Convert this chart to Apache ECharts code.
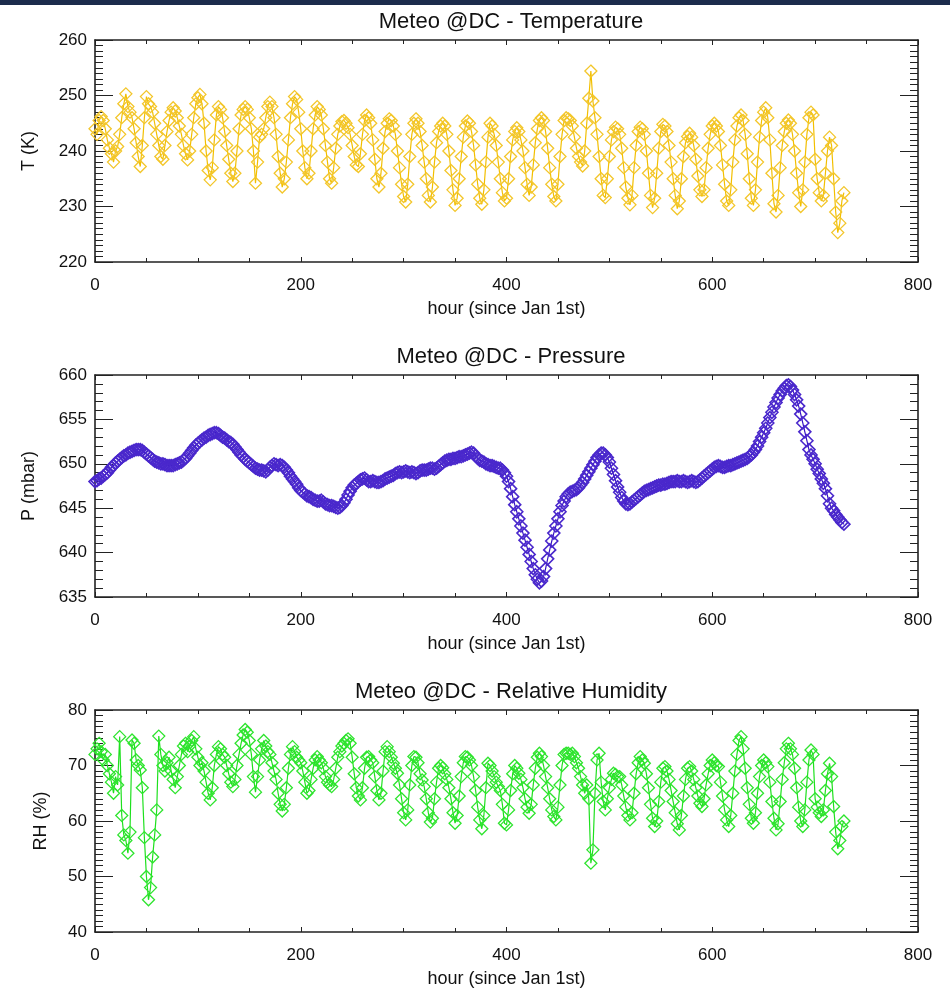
<!DOCTYPE html>
<html>
<head>
<meta charset="utf-8">
<script src="https://cdn.jsdelivr.net/npm/echarts@6/dist/echarts.min.js"></script>
<style>
  html, body { margin: 0; padding: 0; background: #fff; }
  #meteo { width: 950px; height: 989px; }
</style>
</head>
<body>
<div id="meteo"></div>
<script>
// readings taken off the plots every 2 hours, starting at hour 0
var STEP = 2;

var tempK = [
  244, 243, 245.5, 246.2, 245.5, 244, 242, 240.5, 239.5, 238, 240, 240.8,
  243, 246, 248.5, 250.3, 248, 247, 246, 244, 241.5, 239, 237.2, 241,
  246, 249.8, 248.5, 248, 247, 245, 243, 241, 239, 238.5, 241, 243.5,
  245.5, 247, 247.8, 247.2, 246, 244.5, 243, 241, 239.5, 238.4, 240, 243,
  246, 248.5, 249.6, 250.2, 248.5, 245, 240, 236.5, 234.8, 237, 242, 246.5,
  248, 247.5, 246, 243.5, 241, 238.5, 236, 234.5, 236, 240, 244, 246.5,
  247.5, 248, 247.5, 246, 244, 240, 234.2, 238, 242.5, 243, 244, 246,
  248, 248.8, 248, 246, 243, 239, 236, 233.5, 235, 238, 242, 246,
  248.5, 249.8, 249.3, 247, 244, 240, 237, 235, 236, 240, 244, 246.5,
  248, 247.5, 246.5, 244, 241, 238, 235, 234.2, 237, 240.5, 243, 244.5,
  245.3, 245.5, 245, 244.2, 243, 241, 239, 237.5, 237.2, 239.5, 243, 245.5,
  246.5, 246, 245, 242, 238.5, 235, 233.5, 236, 240.5, 243.5, 245, 245.8,
  245.5, 244.5, 243, 240, 237, 234, 231.8, 230.8, 234, 239, 243, 245,
  245.8, 245, 243.5, 241, 238, 235, 232, 230.8, 233.5, 238, 241.5, 243.5,
  244.5, 245, 244.5, 243, 240, 236.5, 233, 230.2, 231.5, 235, 239, 242.5,
  244.5, 245.4, 245, 243.5, 241, 237.5, 234, 231.5, 230.4, 233, 238, 242.5,
  245, 244.5, 243, 241, 238, 235, 232.5, 231, 231.5, 235, 239, 242,
  243.5, 244.2, 243.5, 242, 240, 237, 234, 232, 233.5, 237.5, 241.5, 244,
  245.5, 246, 245.5, 243.5, 240.5, 237, 234, 231.8, 231, 234, 239, 243,
  245.5, 246, 245.8, 245.5, 244.5, 242.5, 240.5, 239, 238, 237.3, 240, 245,
  249.5, 254.4, 249, 246, 243, 239, 235, 232, 231.6, 235, 239, 242,
  243.5, 244.3, 244, 243, 240.5, 237, 233.5, 231.5, 230.3, 232, 237, 241,
  243.5, 244.3, 244, 243, 240, 236, 232, 229.8, 231.5, 236, 240.5, 243.5,
  244.8, 244.5, 243.5, 241, 238, 235, 232, 229.6, 231, 235, 239, 241.5,
  242.6, 243.2, 242.5, 241, 238.5, 235.5, 233, 231.8, 233, 237, 240.5, 243,
  244.5, 245, 244.5, 243.5, 241, 237.5, 234, 231, 230.2, 233, 238, 242,
  244.5, 246, 246.5, 245.5, 243, 239.5, 235, 231.5, 230.2, 233, 238, 242.5,
  245.5, 247, 247.8, 246, 242, 236, 230.5, 229, 232, 237, 241, 243.5,
  245, 245.6, 245, 243, 240, 236, 232.5, 230, 233, 238, 243, 246,
  247, 246.5, 238.5, 235, 232.5, 231, 232, 236, 240, 242.5, 241, 235,
  229, 225.3, 227, 231, 232.5
];

var pressure = [
  648.0, 648.1, 648.3, 648.4, 648.6, 648.8, 649.0, 649.3, 649.6, 649.8, 650.1, 650.3,
  650.5, 650.7, 650.9, 651.0, 651.2, 651.3, 651.4, 651.5, 651.6, 651.6, 651.6, 651.5,
  651.3, 651.1, 650.9, 650.7, 650.5, 650.3, 650.2, 650.1, 650.0, 650.0, 649.9, 649.8,
  649.8, 649.8, 649.8, 649.9, 650.0, 650.1, 650.2, 650.4, 650.6, 650.9, 651.2, 651.5,
  651.8, 652.1, 652.3, 652.5, 652.7, 652.9, 653.0, 653.2, 653.3, 653.4, 653.5, 653.5,
  653.4, 653.2, 653.0, 652.9, 652.7, 652.5, 652.4, 652.2, 651.9, 651.6, 651.3, 651.0,
  650.8, 650.5, 650.3, 650.1, 649.9, 649.7, 649.5, 649.4, 649.3, 649.3, 649.2, 649.1,
  649.3, 649.6, 649.8, 650.0, 649.9, 649.8, 649.9, 649.8, 649.6, 649.3, 649.0, 648.6,
  648.3, 648.0, 647.7, 647.3, 647.0, 646.8, 646.6, 646.4, 646.3, 646.2, 646.0, 645.9,
  645.8, 645.8, 645.9, 645.7, 645.5, 645.4, 645.3, 645.3, 645.2, 645.1, 645.0, 645.1,
  645.3, 645.6, 646.0, 646.5, 646.9, 647.3, 647.6, 647.8, 648.0, 648.2, 648.3, 648.4,
  648.2, 648.0, 648.0, 648.1, 648.0, 647.9, 647.9, 648.0, 648.1, 648.3, 648.4, 648.5,
  648.6, 648.7, 648.9, 649.0, 649.1, 649.0, 649.1, 649.2, 649.1, 649.0, 649.1, 649.0,
  648.9, 649.0, 649.2, 649.3, 649.3, 649.3, 649.4, 649.5, 649.5, 649.4, 649.5, 649.7,
  649.9, 650.1, 650.3, 650.4, 650.5, 650.5, 650.6, 650.6, 650.7, 650.8, 650.8, 650.9,
  651.0, 651.1, 651.2, 651.3, 651.2, 650.9, 650.6, 650.4, 650.3, 650.2, 650.0, 649.9,
  649.8, 649.8, 649.7, 649.6, 649.5, 649.5, 649.3, 649.0, 648.6, 648.0, 647.2, 646.3,
  645.4, 644.6, 643.8, 643.0, 642.2, 641.4, 640.6, 639.8, 639.0, 638.2, 637.5, 637.0,
  636.6, 636.8, 637.3, 638.2, 639.3, 640.3, 641.3, 642.2, 643.0, 643.8, 644.6, 645.3,
  645.8, 646.3, 646.6, 646.8, 646.9, 647.0, 647.1, 647.3, 647.6, 647.9, 648.3, 648.7,
  649.1, 649.5, 649.9, 650.3, 650.7, 651.0, 651.2, 651.2, 651.0, 650.7, 650.2, 649.5,
  648.8, 648.1, 647.4, 646.8, 646.2, 645.8, 645.5, 645.4, 645.5, 645.7, 645.9, 646.1,
  646.3, 646.5, 646.7, 646.9, 647.0, 647.1, 647.2, 647.3, 647.4, 647.5, 647.6, 647.6,
  647.7, 647.7, 647.8, 647.9, 648.0, 648.0, 648.0, 648.1, 648.0, 648.0, 648.1, 648.0,
  647.9, 648.0, 648.1, 648.0, 647.9, 648.0, 648.2, 648.4, 648.6, 648.8, 649.0, 649.2,
  649.4, 649.6, 649.7, 649.8, 649.7, 649.6, 649.6, 649.7, 649.8, 649.8, 649.9, 650.0,
  650.1, 650.2, 650.3, 650.4, 650.5, 650.6, 650.8, 651.0, 651.3, 651.6, 652.0, 652.5,
  653.0, 653.5, 654.0, 654.6, 655.2, 655.8, 656.4, 656.9, 657.4, 657.8, 658.2, 658.5,
  658.8, 658.9, 658.7, 658.3, 657.8, 657.2, 656.5, 655.6, 654.6, 653.6, 652.6, 651.6,
  651.0, 650.5, 650.0, 649.4, 648.9, 648.3, 647.8, 647.2, 646.4, 645.5, 645.0, 644.7,
  644.3, 644.0, 643.7, 643.4, 643.2
];

var humidity = [
  72, 73, 74, 72.5, 71, 72, 70, 68.5, 67, 65, 68, 66.5,
  75.2, 61, 57.5, 56.5, 54.2, 58, 74.6, 74, 71, 70, 69.2, 66,
  57, 50, 45.8, 48, 53.5, 57.5, 62, 75.3, 72, 70, 69, 70.5,
  71.5, 69, 67.5, 66, 68, 70, 72, 73.5, 74, 72.5, 73.5, 74.5,
  75.2, 73, 71.5, 70, 70.5, 69, 67, 65, 63.8, 66, 70, 72,
  73.4, 73, 72, 71.5, 70, 68.5, 67, 66.2, 67.5, 70, 72, 74,
  75.5, 76.5, 76, 74.5, 72, 68, 65.2, 68, 71, 73, 74.5, 73.5,
  72.5, 72, 70.5, 69, 67.5, 65, 63, 61.8, 63, 66, 69.5, 72,
  73.4, 72.5, 71.5, 71, 70.5, 69, 67, 65, 65.5, 67.5, 69.5, 71,
  71.6, 71, 70.5, 69.5, 68, 67, 66.5, 66.2, 67.5, 69.5, 71.5, 72.5,
  73.5, 74, 74.5, 74.8, 74, 71.5, 68.5, 66, 64.5, 63.8, 66, 69.5,
  71.5, 71.6, 71, 70.5, 68, 65.5, 63.8, 65, 69, 72.5, 73.4, 72.5,
  71.5, 70.4, 69.5, 68.6, 66.5, 64, 61.5, 60.2, 62, 66.5, 70, 71.6,
  71.5, 70.5, 68.5, 67.4, 66.2, 64, 61.5, 59.8, 60.5, 64, 67, 69.5,
  70, 69.6, 68.5, 67.5, 66, 64, 61.5, 59.6, 61, 64.5, 68, 70.5,
  71.6, 71.5, 71, 70, 68, 65.5, 62.5, 60.2, 58.6, 61, 66, 70.4,
  70, 69, 68, 67, 66.2, 65.5, 63, 59.6, 59.3, 62, 65.5, 68.5,
  70, 69.5, 68.6, 67.5, 66, 64, 62.5, 61.4, 63, 66.5, 69.5, 71.5,
  72.2, 71.6, 70, 68, 66, 64, 62, 60.8, 60.2, 62.5, 66.5, 70,
  72, 72.2, 72.2, 72, 72.2, 71.6, 70.5, 69.5, 68, 66.5, 65, 66.5,
  64, 52.4, 54.8, 65, 71, 72.2, 67, 63.5, 62, 64, 66, 67.5,
  68.6, 68.4, 68, 68, 66.5, 64.5, 62.5, 61, 60.2, 61.5, 65, 68.5,
  70.5, 71.6, 71, 70.4, 68.5, 66, 63, 60.5, 59, 60, 63.5, 67,
  69.5, 69.8, 69, 67.5, 65.5, 63.5, 61.5, 59.5, 58.4, 61, 64.5, 67.5,
  69.5, 69.8, 69, 67.5, 66, 64.5, 63.2, 62.6, 64, 66.5, 68.5, 70,
  71, 70.5, 70, 69.8, 67, 64.5, 62, 60.2, 59, 61, 65, 69,
  72, 74.5, 75.2, 73, 69.5, 66, 63, 60.5, 59.6, 61.5, 65, 68,
  70, 71, 70.5, 69.8, 67, 63.5, 60.5, 58.4, 59.5, 63.5, 67.5, 70.5,
  73, 74, 73, 72, 69.5, 66, 62.5, 60, 59, 62, 67, 71,
  72.8, 72, 64, 62.5, 61.5, 60.8, 62, 65.5, 68.5, 70.4, 68, 62.6,
  58, 55, 56.5, 59, 60
];

var titles = ["Meteo @DC - Temperature", "Meteo @DC - Pressure", "Meteo @DC - Relative Humidity"];
var yNames = ["T (K)", "P (mbar)", "RH (%)"];
var yRanges = [
  { min: 220, max: 260, interval: 10, minor: 10 },
  { min: 635, max: 660, interval: 5, minor: 5 },
  { min: 40, max: 80, interval: 10, minor: 10 }
];
var colors = ["#f2bf00", "#3510c4", "#1ee01e"];
var markerColors = ["#f3c62a", "#4a28cc", "#2ee42e"];
var markerSizes = [12, 12, 12];
var markerWidths = [1.3, 1.6, 1.3];

var gridTops = [40, 375, 710];
var font = "Liberation Sans";
var ink = "#222";

function toPairs(arr) {
  return arr.map(function (v, i) { return [i * STEP, v]; });
}
var allData = [toPairs(tempK), toPairs(pressure), toPairs(humidity)];

var chart = echarts.init(document.getElementById("meteo"));

var option = {
  animation: false,
  backgroundColor: "#fff",
  graphic: [{
    type: "rect",
    shape: { x: 0, y: 0, width: 950, height: 5 },
    style: { fill: "#1c2c4c" }
  }],
  title: [],
  grid: [],
  xAxis: [],
  yAxis: [],
  series: []
};

for (var i = 0; i < 3; i++) {
  option.title.push({
    text: titles[i],
    left: 506,
    textAlign: "center",
    top: gridTops[i] - 34,
    textStyle: { fontFamily: font, fontSize: 22, fontWeight: "normal", color: "#111" }
  });
  option.grid.push({ left: 95, right: 32, top: gridTops[i], height: 222 });

  var xBase = {
    type: "value",
    gridIndex: i,
    min: 0,
    max: 800,
    interval: 200,
    axisLine: { show: true, onZero: false, lineStyle: { color: ink, width: 1.6 } },
    axisTick: { show: true, inside: true, length: 5, lineStyle: { color: ink } },
    minorTick: { show: true, splitNumber: 4, length: 4, lineStyle: { color: ink } },
    splitLine: { show: false }
  };
  // bottom axis with labels
  option.xAxis.push(Object.assign({}, xBase, {
    position: "bottom",
    name: "hour (since Jan 1st)",
    nameLocation: "middle",
    nameGap: 38,
    nameTextStyle: { fontFamily: font, fontSize: 18, color: "#111" },
    axisLabel: { fontFamily: font, fontSize: 17, color: "#111", margin: 15 }
  }));
  // top mirror
  option.xAxis.push(Object.assign({}, xBase, {
    position: "top",
    axisLabel: { show: false }
  }));

  var r = yRanges[i];
  var yBase = {
    type: "value",
    gridIndex: i,
    min: r.min,
    max: r.max,
    interval: r.interval,
    axisLine: { show: true, onZero: false, lineStyle: { color: ink, width: 1.6 } },
    axisTick: { show: true, inside: true, length: 18, lineStyle: { color: ink } },
    minorTick: { show: true, splitNumber: r.minor, length: 8, lineStyle: { color: ink } },
    splitLine: { show: false }
  };
  option.yAxis.push(Object.assign({}, yBase, {
    position: "left",
    name: yNames[i],
    nameLocation: "middle",
    nameGap: i == 2 ? 45 : 57,
    nameTextStyle: { fontFamily: font, fontSize: 18, color: "#111" },
    axisLabel: { fontFamily: font, fontSize: 17, color: "#111", margin: 8 }
  }));
  // right mirror
  option.yAxis.push(Object.assign({}, yBase, {
    position: "right",
    axisLabel: { show: false }
  }));

  option.series.push({
    type: "line",
    xAxisIndex: i * 2,
    yAxisIndex: i * 2,
    data: allData[i],
    symbol: "diamond",
    symbolSize: markerSizes[i],
    showSymbol: true,
    silent: true,
    lineStyle: { color: colors[i], width: 1.2 },
    itemStyle: { color: "rgba(0,0,0,0)", borderColor: markerColors[i], borderWidth: markerWidths[i] }
  });
}

chart.setOption(option);
</script>
</body>
</html>
